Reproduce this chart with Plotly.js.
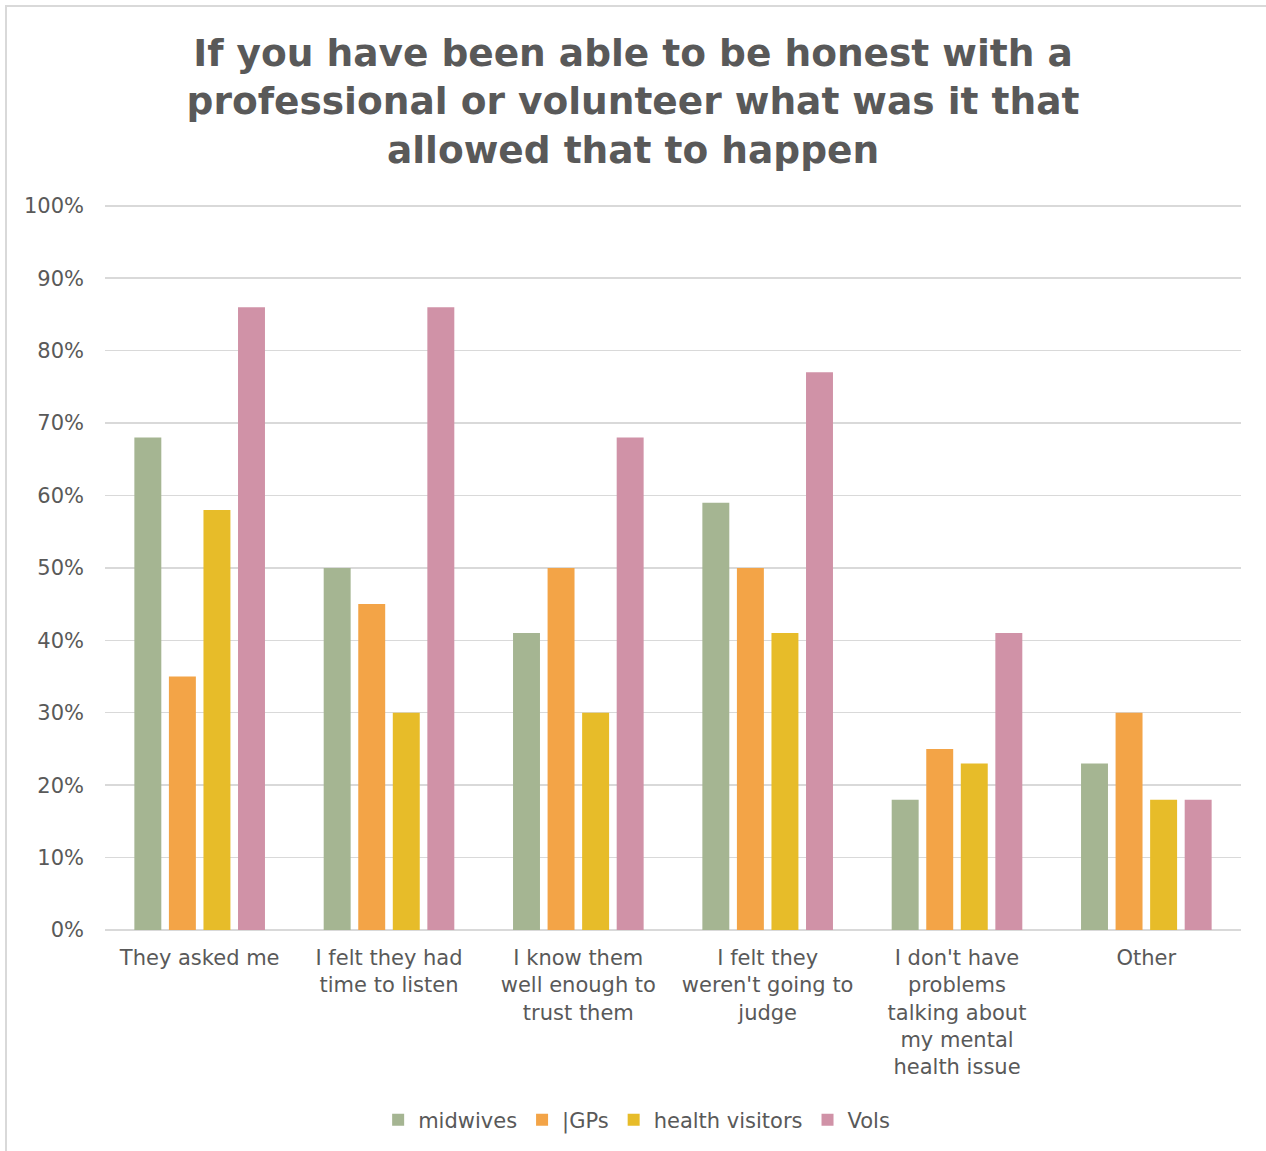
<!DOCTYPE html>
<html>
<head>
<meta charset="utf-8">
<script src="https://cdn.plot.ly/plotly-3.0.1.min.js"></script>
<style>
  html, body { margin: 0; padding: 0; background: #fff; overflow: hidden; }
  #chart { position: absolute; left: 0; top: 0; width: 1266px; height: 1151px; }
  #frame { position: absolute; left: 5px; top: 5px; width: 1400px; height: 1300px;
           border: 2px solid #d9d9d9; pointer-events: none; z-index: 10; }
</style>
</head>
<body>
<div id="chart"></div>
<div id="frame"></div>
<script>
const categories = [
  "They asked me",
  "I felt they had<br>time to listen",
  "I know them<br>well enough to<br>trust them",
  "I felt they<br>weren't going to<br>judge",
  "I don't have<br>problems<br>talking about<br>my mental<br>health issue",
  "Other"
];
const seriesNames = ["midwives", "|GPs", "health visitors", "Vols"];
const midwives = [68, 50, 41, 59, 18, 23];
const gps = [35, 45, 50, 50, 25, 30];
const healthVisitors = [58, 30, 30, 41, 23, 18];
const vols = [86, 86, 68, 77, 41, 18];
const yTicks = [0, 10, 20, 30, 40, 50, 60, 70, 80, 90, 100];
const yTickText = yTicks.map(v => v + "%");

const colors = ["#A5B592", "#F3A447", "#E7BC29", "#D092A7"];
const allValues = [midwives, gps, healthVisitors, vols];

const traces = allValues.map((vals, i) => ({
  type: "bar",
  name: seriesNames[i],
  x: categories,
  y: vals,
  marker: { color: colors[i], line: { width: 0 } },
  hoverinfo: "skip"
}));

const font = "'DejaVu Sans', Verdana, sans-serif";
const layout = {
  width: 1266,
  height: 1151,
  paper_bgcolor: "rgba(0,0,0,0)",
  plot_bgcolor: "#fff",
  margin: { l: 105, r: 25, t: 204, b: 220 },
  barmode: "group",
  bargap: 0.27,
  bargroupgap: 0.22,
  title: {
    text: "If you have been able to be honest with a<br>professional or volunteer what was it that<br>allowed that to happen",
    font: { family: font, size: 37.5, color: "#595959", weight: 700 },
    x: 0.5, xanchor: "center",
    yref: "container",
    y: 0.943, yanchor: "middle"
  },
  xaxis: {
    type: "category",
    tickfont: { family: font, size: 21, color: "#595959" },
    showgrid: false,
    showline: false,
    ticks: "",
    ticklabelstandoff: 13,
    fixedrange: true
  },
  yaxis: {
    range: [0, 100.25],
    tickvals: yTicks,
    ticktext: yTickText,
    tickfont: { family: font, size: 21, color: "#595959" },
    showgrid: true,
    gridcolor: "#d9d9d9",
    gridwidth: 1.5,
    zeroline: true,
    zerolinecolor: "#d9d9d9",
    zerolinewidth: 1.5,
    showline: false,
    ticks: "",
    ticklabelstandoff: 20,
    fixedrange: true
  },
  showlegend: true,
  legend: {
    orientation: "h",
    x: 0.468, xanchor: "center",
    y: -0.26, yanchor: "middle",
    font: { family: font, size: 21, color: "#595959" },
    itemwidth: 30,
    tracegroupgap: 0
  }
};

Plotly.newPlot("chart", traces, layout, { displayModeBar: false, staticPlot: true });
</script>
</body>
</html>
